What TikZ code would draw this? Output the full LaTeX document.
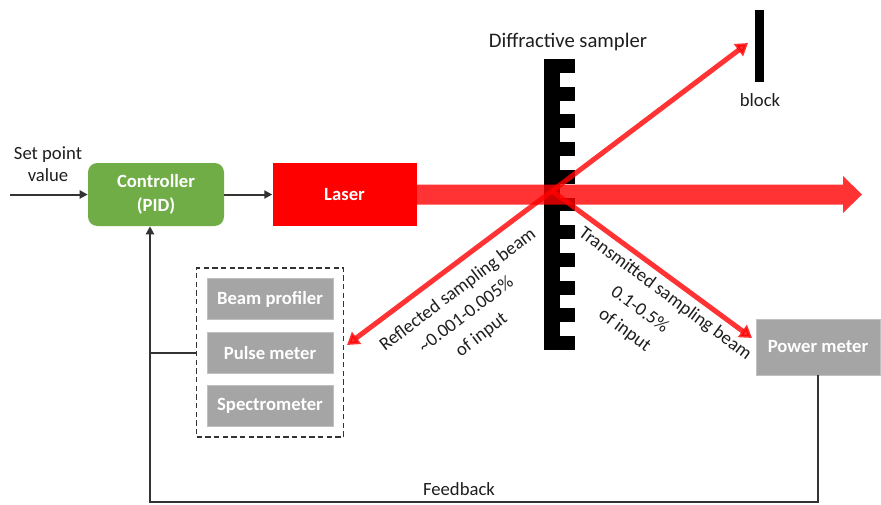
\documentclass[tikz,border=0pt]{standalone}
\usepackage{fontspec}
\setmainfont{Carlito}
\usetikzlibrary{arrows.meta, positioning, calc, fit}
\definecolor{ctrlgreen}{HTML}{70AD47}
\definecolor{metergray}{HTML}{A5A5A5}
\definecolor{linegray}{HTML}{333333}
\definecolor{txtgray}{HTML}{1E1E1E}

\begin{document}
\begin{tikzpicture}[
  x=0.75pt, y=-0.75pt,
  every node/.style={font=\fontsize{14}{16.5}\selectfont, text=txtgray},
  box/.style={minimum width=#1, minimum height=47.25pt, inner sep=0pt,
    font=\fontsize{14}{18}\selectfont\bfseries, text=white},
  instr/.style={fill=metergray, draw=metergray!70!white, line width=0.6pt,
    minimum width=94.5pt, minimum height=31pt, inner sep=0pt,
    font=\fontsize{14}{17}\selectfont\bfseries, text=white},
  flow/.style={draw=linegray, line width=1.5pt},
  tip/.style={-{Triangle[length=6pt, width=6pt]}},
  beam/.style={draw=red, opacity=0.8, line width=3.75pt,
    -{Triangle[length=9pt, width=11pt]}},
  slant/.style={font=\fontsize{14}{19}\selectfont, align=center}
]
  \useasboundingbox (0,0) rectangle (881,504);

  \node[box=102pt, rounded corners=7pt, fill=ctrlgreen, align=center] (ctrl) at (156,194.5) {Controller\\(PID)};
  \node[box=108pt, fill=red, right=36pt of ctrl] (laser) {Laser};
  \node[box=93pt, minimum height=42pt, fill=metergray, draw=metergray!70!white, line width=0.6pt] (pm) at (818,347) {Power meter};

  \node[instr] (bp) at (270,299) {Beam profiler};
  \node[instr, below=8.6pt of bp] (pul) {Pulse meter};
  \node[instr, below=8.6pt of pul] (spec) {Spectrometer};
  \node[fit=(bp)(spec), draw=linegray, line width=1.2pt, dash pattern=on 4pt off 2.5pt, inner sep=7.5pt] (grp) {};

  \node[align=center] (sp) at (48,164) {Set point\\value};
  \coordinate (spin) at (10,194.5);
  \draw[flow, tip] (spin) -- (ctrl.west);
  \draw[flow, tip] (ctrl) -- (laser);

  \node[font=\fontsize{15.5}{18}\selectfont] (ds) at (568,42) {Diffractive sampler};
  \fill (544,59) rectangle (560,350);
  \foreach \i in {0,...,10}
    \fill (560,{59+2*\i*13.857}) rectangle (575,{59+(2*\i+1)*13.857});

  \node[fill=black, minimum width=6.75pt, minimum height=54pt, inner sep=0pt] (bar) at (759.5,46) {};
  \node (blk) at (760,100) {block};

  \fill[red, opacity=0.8] ($(laser.east)+(0,-10)$) -- (843,184.5) -- (843,176) -- (862,194.5)
    -- (843,213) -- (843,204.5) -- ($(laser.east)+(0,10)$) -- cycle;

  \coordinate (hit) at (552,191);
  \coordinate (blktip) at (748,43);
  \coordinate (reftip) at (347,345);
  \coordinate (pmtip) at (752,338);
  \draw[beam] (hit) -- (blktip);
  \draw[beam] (hit) -- (reftip);
  \draw[beam] (hit) -- (pmtip);

  \node[slant, rotate=37.2] (rl) at (458,290) {Reflected sampling beam};
  \node[slant, rotate=37.2] (rv) at (474,325) {\textasciitilde0.001-0.005\%\\of input};
  \node[slant, rotate=-36.5] (tl) at (665,294) {Transmitted sampling beam};
  \node[slant, rotate=-36.5] (tv) at (632,320) {0.1-0.5\%\\of input};

  \coordinate (fbl) at (150,502);
  \draw[flow, tip] (pm.south) |- (fbl) -- (fbl |- ctrl.south);
  \draw[flow] (grp.west) -- (grp.west -| fbl);
  \node (fb) at (459,489) {Feedback};
\end{tikzpicture}
\end{document}
